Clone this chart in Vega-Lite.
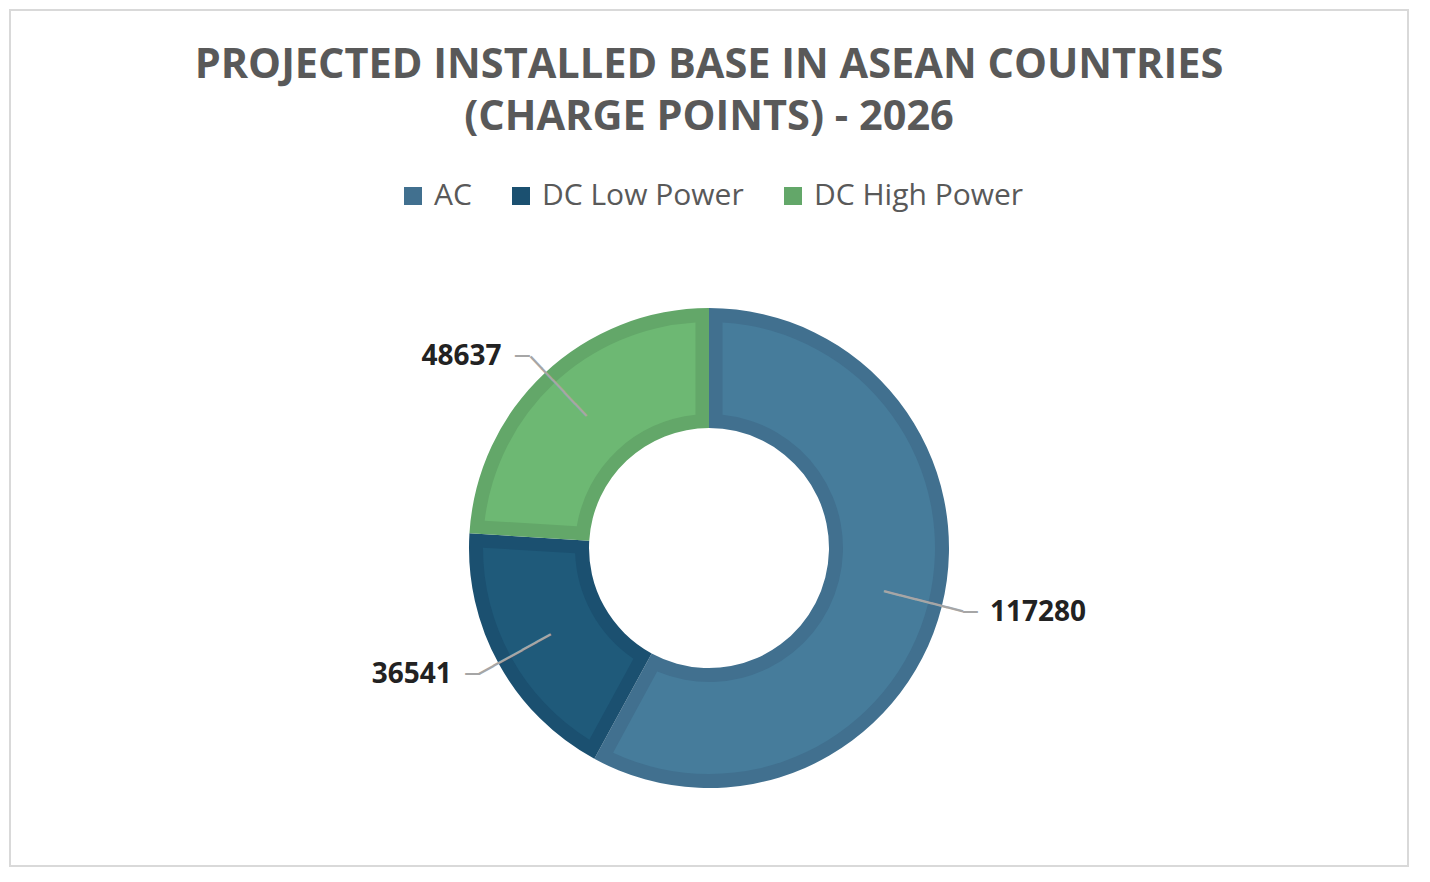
{
  "$schema": "https://vega.github.io/schema/vega-lite/v6.json",
  "width": 1430,
  "height": 882,
  "autosize": {"type": "fit", "contains": "padding"},
  "padding": {"top": 10, "left": 10, "right": 22, "bottom": 16},
  "background": "white",
  "title": {
    "text": ["PROJECTED INSTALLED BASE IN ASEAN COUNTRIES", "(CHARGE POINTS) - 2026"],
    "font": "Open Sans",
    "fontSize": 41.5,
    "fontWeight": "bold",
    "color": "#595959",
    "lineHeight": 52,
    "anchor": "middle",
    "offset": -128
  },
  "config": {
    "view": {"stroke": "#d9d9d9", "strokeWidth": 2},
    "style": {"view": {"stroke": "#d9d9d9", "strokeWidth": 2}}
  },
  "data": {
    "values": [
      {"type": "AC", "k": 1, "count": 117280},
      {"type": "DC Low Power", "k": 2, "count": 36541},
      {"type": "DC High Power", "k": 3, "count": 48637}
    ]
  },
  "encoding": {
    "theta": {"field": "count", "type": "quantitative", "stack": true},
    "order": {"field": "k", "type": "ordinal"}
  },
  "layer": [
    {
      "mark": {"type": "arc", "outerRadius": 240, "innerRadius": 120, "yOffset": 110},
      "encoding": {
        "color": {
          "field": "type",
          "type": "nominal",
          "scale": {
            "domain": ["AC", "DC Low Power", "DC High Power"],
            "range": ["#41708f", "#1b5070", "#63a769"]
          },
          "legend": {
            "title": null,
            "orient": "none",
            "legendX": 388,
            "legendY": 171,
            "direction": "horizontal",
            "symbolType": "square",
            "symbolSize": 324,
            "symbolStrokeWidth": 0,
            "labelFont": "Open Sans",
            "labelFontSize": 30,
            "labelLimit": 400,
            "labelColor": "#595959",
            "labelOffset": 6,
            "columnPadding": 34
          }
        }
      }
    },
    {
      "mark": {"type": "arc", "outerRadius": 226, "innerRadius": 134, "padAngle": 0.103, "yOffset": 110},
      "encoding": {
        "color": {
          "field": "type",
          "type": "nominal",
          "scale": {
            "domain": ["AC", "DC Low Power", "DC High Power"],
            "range": ["#467c9b", "#1f5a7a", "#6db873"]
          },
          "legend": null
        }
      }
    },
    {
      "mark": {
        "type": "text",
        "radius": 221,
        "yOffset": 110,
        "font": "DejaVu Sans Mono",
        "fontSize": 27,
        "align": "center",
        "baseline": "middle",
        "color": "#a6a6a6"
      },
      "encoding": {
        "text": {"value": "─────"},
        "angle": {
          "field": "type",
          "type": "nominal",
          "scale": {
            "type": "ordinal",
            "domain": ["AC", "DC Low Power", "DC High Power"],
            "range": [14.25, 331, 46.75]
          },
          "legend": null
        }
      }
    },
    {
      "mark": {
        "type": "text",
        "radius": 262,
        "yOffset": 110,
        "font": "DejaVu Sans Mono",
        "fontSize": 24,
        "baseline": "middle",
        "align": {"expr": "datum.type == 'AC' ? 'left' : 'right'"},
        "color": "#a6a6a6"
      },
      "encoding": {
        "text": {"value": "─"}
      }
    },
    {
      "mark": {
        "type": "text",
        "radius": 262,
        "yOffset": 110,
        "font": "Open Sans",
        "fontSize": 28,
        "fontWeight": "bold",
        "baseline": "middle",
        "align": {"expr": "datum.type == 'AC' ? 'left' : 'right'"},
        "dx": {"expr": "datum.type == 'AC' ? 27 : -28"},
        "color": "#222222"
      },
      "encoding": {
        "text": {"field": "count", "type": "quantitative", "format": "d"}
      }
    }
  ],
  "resolve": {"scale": {"color": "independent"}}
}
